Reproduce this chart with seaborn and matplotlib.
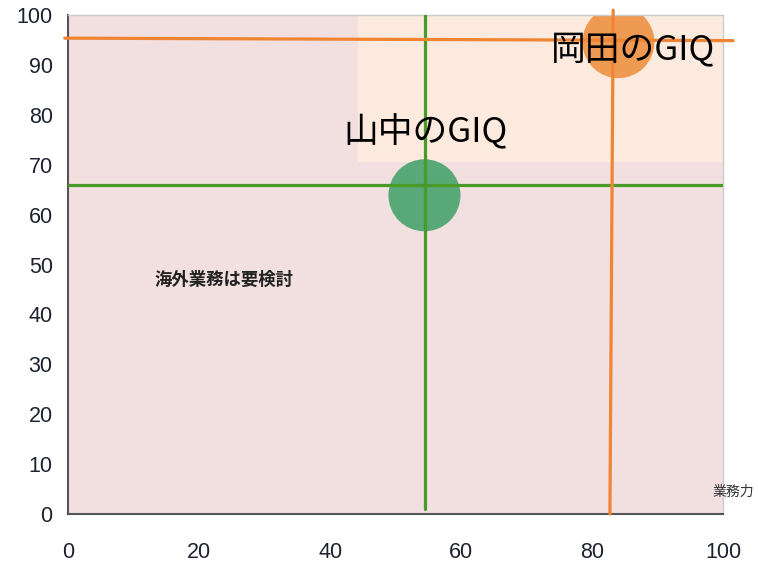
import matplotlib
matplotlib.use("Agg")
import matplotlib.pyplot as plt
import seaborn as sns
import pandas as pd
from matplotlib.patches import Rectangle

sns.set_style("white")
plt.rcParams['font.family'] = ['Noto Sans CJK JP', 'DejaVu Sans']

# data
names = ["山中のGIQ", "岡田のGIQ"]
gyomu = [54.4, 84.0]        # 業務力 (x)
kaigai = [63.9, 94.6]       # y
line_x = [54.5, 82.7]       # vertical guide lines (bottom)
line_x_top = [54.5, 83.2]
line_y = [65.9, 95.4]       # horizontal guide lines
label_xy = [(54.5, 76.4), (86.3, 93.0)]
zone_x0, zone_y0 = 44.3, 70.5
ticks = [0, 20, 40, 60, 80, 100]
yticks = [0, 10, 20, 30, 40, 50, 60, 70, 80, 90, 100]

df = pd.DataFrame({"name": names, "x": gyomu, "y": kaigai})

fig = plt.figure(figsize=(7.58, 5.63), dpi=100)
ax = fig.add_axes([0.0897, 0.087, 0.8645, 0.886])
ax.set_facecolor("#f2dfdf")
ax.set_xlim(0, 100)
ax.set_ylim(0, 100)

ax.add_patch(Rectangle((zone_x0, zone_y0), 100 - zone_x0, 100 - zone_y0,
                       facecolor="#fbeadd", edgecolor="none", zorder=0.5))

colors_line = ["#4a9a2a", "#ef8433"]
colors_pt = ["#58a878", "#ef9a52"]

sns.scatterplot(data=df, x="x", y="y", hue="name", palette=colors_pt, s=2690,
                legend=False, edgecolor="none", ax=ax, zorder=2)

# green lines
ax.plot([0, 100], [line_y[0], line_y[0]], color=colors_line[0], lw=2.3, zorder=3)
ax.plot([line_x[0], line_x_top[0]], [1, 100], color=colors_line[0], lw=2.3, zorder=3)
# orange lines (extend beyond axes)
ax.plot([-0.5, 101.5], [line_y[1], line_y[1] - 0.5], color=colors_line[1], lw=2.3,
        zorder=3, clip_on=False)
ax.plot([line_x[1], line_x_top[1]], [0, 101], color=colors_line[1], lw=2.3,
        zorder=3, clip_on=False)

for n, (tx, ty) in zip(names, label_xy):
    ax.text(tx, ty, n, fontsize=25, ha="center", va="center", color="black", zorder=4)

ax.text(13.2, 47, "海外業務は要検討", fontsize=12.5, fontweight="bold", ha="left",
        va="center", color="#222222", zorder=4)
ax.text(101.5, 4.5, "業務力", fontsize=10, ha="center", va="center",
        color="#333333", clip_on=False)

ax.set_xticks(ticks)
ax.set_yticks(yticks)
tick_font = dict(family=["Liberation Sans", "DejaVu Sans"], size=15.5, weight="normal")
ax.set_xticklabels([str(t) for t in ticks], color="#1e2230", fontdict=tick_font)
ax.set_yticklabels([str(t) for t in yticks], color="#1e2230", fontdict=tick_font)
ax.tick_params(direction="in", length=4, width=1, color="#555555", pad=20, axis="x")
ax.tick_params(direction="in", length=4, width=1, color="#555555", pad=11, axis="y")
ax.set_xlabel("")
ax.set_ylabel("")
for s in ["left", "bottom"]:
    ax.spines[s].set_color("#555555")
    ax.spines[s].set_linewidth(1.5)
for s in ["top", "right"]:
    ax.spines[s].set_color("#cccccc")
    ax.spines[s].set_linewidth(1)

fig.savefig("out.png", dpi=100)
